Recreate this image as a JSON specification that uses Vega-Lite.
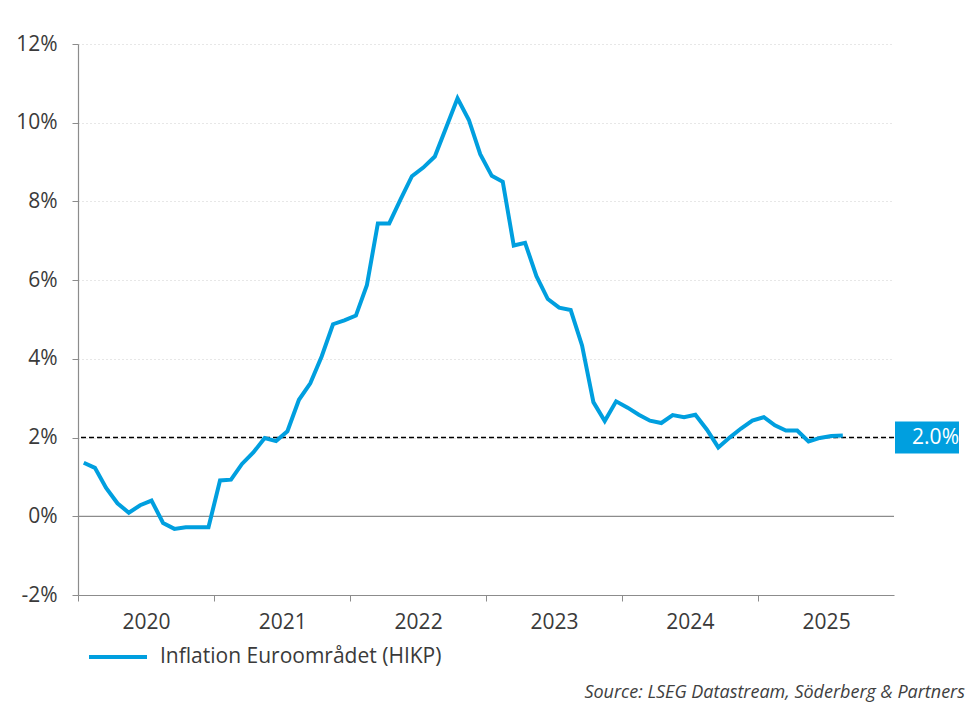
{
  "$schema": "https://vega.github.io/schema/vega-lite/v6.json",
  "autosize": {"type": "none"},
  "padding": {"left": 78, "top": 44, "right": 74, "bottom": 109},
  "width": 816,
  "height": 551,
  "config": {
    "font": "Open Sans",
    "view": {"stroke": null},
    "axis": {"labelColor": "#3a3a3a", "labelFontSize": 21, "domainColor": "#8c8c8c", "tickColor": "#8c8c8c"}
  },
  "title": {
    "text": "Source: LSEG Datastream, Söderberg & Partners",
    "orient": "bottom",
    "anchor": "end",
    "frame": "group",
    "dx": 71,
    "offset": 17,
    "fontSize": 18,
    "fontStyle": "italic",
    "fontWeight": "normal",
    "color": "#404040"
  },
  "datasets": {
    "hicp": [
      {"month": "2020-01", "value": 1.36, "series": "Inflation Euroområdet (HIKP)"},
      {"month": "2020-02", "value": 1.23, "series": "Inflation Euroområdet (HIKP)"},
      {"month": "2020-03", "value": 0.72, "series": "Inflation Euroområdet (HIKP)"},
      {"month": "2020-04", "value": 0.33, "series": "Inflation Euroområdet (HIKP)"},
      {"month": "2020-05", "value": 0.09, "series": "Inflation Euroområdet (HIKP)"},
      {"month": "2020-06", "value": 0.28, "series": "Inflation Euroområdet (HIKP)"},
      {"month": "2020-07", "value": 0.4, "series": "Inflation Euroområdet (HIKP)"},
      {"month": "2020-08", "value": -0.17, "series": "Inflation Euroområdet (HIKP)"},
      {"month": "2020-09", "value": -0.32, "series": "Inflation Euroområdet (HIKP)"},
      {"month": "2020-10", "value": -0.28, "series": "Inflation Euroområdet (HIKP)"},
      {"month": "2020-11", "value": -0.28, "series": "Inflation Euroområdet (HIKP)"},
      {"month": "2020-12", "value": -0.28, "series": "Inflation Euroområdet (HIKP)"},
      {"month": "2021-01", "value": 0.91, "series": "Inflation Euroområdet (HIKP)"},
      {"month": "2021-02", "value": 0.93, "series": "Inflation Euroområdet (HIKP)"},
      {"month": "2021-03", "value": 1.33, "series": "Inflation Euroområdet (HIKP)"},
      {"month": "2021-04", "value": 1.62, "series": "Inflation Euroområdet (HIKP)"},
      {"month": "2021-05", "value": 1.99, "series": "Inflation Euroområdet (HIKP)"},
      {"month": "2021-06", "value": 1.91, "series": "Inflation Euroområdet (HIKP)"},
      {"month": "2021-07", "value": 2.16, "series": "Inflation Euroområdet (HIKP)"},
      {"month": "2021-08", "value": 2.96, "series": "Inflation Euroområdet (HIKP)"},
      {"month": "2021-09", "value": 3.38, "series": "Inflation Euroområdet (HIKP)"},
      {"month": "2021-10", "value": 4.06, "series": "Inflation Euroområdet (HIKP)"},
      {"month": "2021-11", "value": 4.88, "series": "Inflation Euroområdet (HIKP)"},
      {"month": "2021-12", "value": 4.98, "series": "Inflation Euroområdet (HIKP)"},
      {"month": "2022-01", "value": 5.1, "series": "Inflation Euroområdet (HIKP)"},
      {"month": "2022-02", "value": 5.87, "series": "Inflation Euroområdet (HIKP)"},
      {"month": "2022-03", "value": 7.44, "series": "Inflation Euroområdet (HIKP)"},
      {"month": "2022-04", "value": 7.44, "series": "Inflation Euroområdet (HIKP)"},
      {"month": "2022-05", "value": 8.05, "series": "Inflation Euroområdet (HIKP)"},
      {"month": "2022-06", "value": 8.64, "series": "Inflation Euroområdet (HIKP)"},
      {"month": "2022-07", "value": 8.86, "series": "Inflation Euroområdet (HIKP)"},
      {"month": "2022-08", "value": 9.14, "series": "Inflation Euroområdet (HIKP)"},
      {"month": "2022-09", "value": 9.88, "series": "Inflation Euroområdet (HIKP)"},
      {"month": "2022-10", "value": 10.62, "series": "Inflation Euroområdet (HIKP)"},
      {"month": "2022-11", "value": 10.07, "series": "Inflation Euroområdet (HIKP)"},
      {"month": "2022-12", "value": 9.2, "series": "Inflation Euroområdet (HIKP)"},
      {"month": "2023-01", "value": 8.65, "series": "Inflation Euroområdet (HIKP)"},
      {"month": "2023-02", "value": 8.5, "series": "Inflation Euroområdet (HIKP)"},
      {"month": "2023-03", "value": 6.88, "series": "Inflation Euroområdet (HIKP)"},
      {"month": "2023-04", "value": 6.95, "series": "Inflation Euroområdet (HIKP)"},
      {"month": "2023-05", "value": 6.1, "series": "Inflation Euroområdet (HIKP)"},
      {"month": "2023-06", "value": 5.52, "series": "Inflation Euroområdet (HIKP)"},
      {"month": "2023-07", "value": 5.3, "series": "Inflation Euroområdet (HIKP)"},
      {"month": "2023-08", "value": 5.24, "series": "Inflation Euroområdet (HIKP)"},
      {"month": "2023-09", "value": 4.34, "series": "Inflation Euroområdet (HIKP)"},
      {"month": "2023-10", "value": 2.9, "series": "Inflation Euroområdet (HIKP)"},
      {"month": "2023-11", "value": 2.42, "series": "Inflation Euroområdet (HIKP)"},
      {"month": "2023-12", "value": 2.92, "series": "Inflation Euroområdet (HIKP)"},
      {"month": "2024-01", "value": 2.76, "series": "Inflation Euroområdet (HIKP)"},
      {"month": "2024-02", "value": 2.58, "series": "Inflation Euroområdet (HIKP)"},
      {"month": "2024-03", "value": 2.43, "series": "Inflation Euroområdet (HIKP)"},
      {"month": "2024-04", "value": 2.37, "series": "Inflation Euroområdet (HIKP)"},
      {"month": "2024-05", "value": 2.57, "series": "Inflation Euroområdet (HIKP)"},
      {"month": "2024-06", "value": 2.52, "series": "Inflation Euroområdet (HIKP)"},
      {"month": "2024-07", "value": 2.58, "series": "Inflation Euroområdet (HIKP)"},
      {"month": "2024-08", "value": 2.2, "series": "Inflation Euroområdet (HIKP)"},
      {"month": "2024-09", "value": 1.75, "series": "Inflation Euroområdet (HIKP)"},
      {"month": "2024-10", "value": 2.0, "series": "Inflation Euroområdet (HIKP)"},
      {"month": "2024-11", "value": 2.23, "series": "Inflation Euroområdet (HIKP)"},
      {"month": "2024-12", "value": 2.43, "series": "Inflation Euroområdet (HIKP)"},
      {"month": "2025-01", "value": 2.52, "series": "Inflation Euroområdet (HIKP)"},
      {"month": "2025-02", "value": 2.31, "series": "Inflation Euroområdet (HIKP)"},
      {"month": "2025-03", "value": 2.18, "series": "Inflation Euroområdet (HIKP)"},
      {"month": "2025-04", "value": 2.18, "series": "Inflation Euroområdet (HIKP)"},
      {"month": "2025-05", "value": 1.9, "series": "Inflation Euroområdet (HIKP)"},
      {"month": "2025-06", "value": 1.99, "series": "Inflation Euroområdet (HIKP)"},
      {"month": "2025-07", "value": 2.04, "series": "Inflation Euroområdet (HIKP)"},
      {"month": "2025-08", "value": 2.05, "series": "Inflation Euroområdet (HIKP)"}
    ],
    "target": [{"value": 2.0, "label": "2.0%", "edge": "2026-01-01"}]
  },
  "layer": [
    {
      "data": {"values": [{"zero": 0}]},
      "mark": {"type": "rule", "color": "#8c8c8c", "strokeWidth": 1.2},
      "encoding": {"y": {"field": "zero", "type": "quantitative"}}
    },
    {
      "data": {"name": "target"},
      "mark": {"type": "rule", "color": "#000000", "strokeWidth": 1.5, "strokeDash": [5, 3]},
      "encoding": {"y": {"field": "value", "type": "quantitative"}}
    },
    {
      "data": {"name": "hicp"},
      "mark": {"type": "line", "strokeWidth": 4, "strokeJoin": "miter", "clip": false},
      "encoding": {
        "x": {
          "field": "month",
          "type": "temporal",
          "timeUnit": "yearmonth",
          "bandPosition": 0.5,
          "scale": {"domain": [{"year": 2020, "month": 1, "date": 1}, {"year": 2026, "month": 1, "date": 1}]},
          "axis": {
            "title": null,
            "values": [
              {"year": 2020, "month": 1, "date": 1},
              {"year": 2021, "month": 1, "date": 1},
              {"year": 2022, "month": 1, "date": 1},
              {"year": 2023, "month": 1, "date": 1},
              {"year": 2024, "month": 1, "date": 1},
              {"year": 2025, "month": 1, "date": 1}
            ],
            "format": "%Y",
            "labelOffset": 68,
            "labelFlush": false,
            "labelOverlap": false,
            "tickSize": 6,
            "labelPadding": 10,
            "grid": false,
            "domainWidth": 1.2
          }
        },
        "y": {
          "field": "value",
          "type": "quantitative",
          "scale": {"domain": [-2, 12], "nice": false, "zero": false},
          "axis": {
            "title": null,
            "values": [-2, 0, 2, 4, 6, 8, 10, 12],
            "labelExpr": "datum.value + '%'",
            "tickSize": 6,
            "labelPadding": 15,
            "domainWidth": 1.2,
            "grid": true,
            "gridColor": "#cfcfcf",
            "gridDash": [1, 3],
            "gridWidth": 1
          }
        },
        "color": {
          "field": "series",
          "type": "nominal",
          "scale": {"range": ["#009fdf"]},
          "legend": {
            "title": null,
            "orient": "none",
            "legendX": 9,
            "legendY": 582,
            "symbolType": "stroke",
            "symbolSize": 3364,
            "symbolStrokeWidth": 4,
            "labelFontSize": 21,
            "labelLimit": 500,
            "labelColor": "#3a3a3a",
            "labelOffset": 11,
            "padding": 0
          }
        }
      }
    },
    {
      "data": {"name": "target"},
      "mark": {"type": "rect", "color": "#009fdf", "xOffset": 1, "x2Offset": 65, "yOffset": -16, "y2Offset": 16},
      "encoding": {
        "x": {"field": "edge", "type": "temporal"},
        "x2": {"field": "edge"},
        "y": {"field": "value", "type": "quantitative"},
        "y2": {"field": "value"}
      }
    },
    {
      "data": {"name": "target"},
      "mark": {"type": "text", "color": "#ffffff", "fontSize": 21, "align": "right", "baseline": "middle", "dx": 65},
      "encoding": {
        "x": {"field": "edge", "type": "temporal"},
        "y": {"field": "value", "type": "quantitative"},
        "text": {"field": "label"}
      }
    }
  ]
}
